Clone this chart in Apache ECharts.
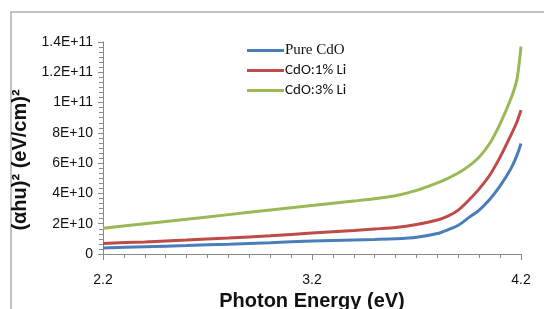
<!DOCTYPE html>
<html>
<head>
<meta charset="utf-8">
<script src="https://cdn.jsdelivr.net/npm/echarts@6/dist/echarts.min.js"></script>
<style>
  html, body { margin: 0; padding: 0; background: #fff; }
  #chart { width: 544px; height: 309px; }
</style>
</head>
<body>
<div id="chart"></div>
<script>
// photon energy (eV)
var energy = [2.2, 2.4, 2.6, 2.8, 3.0, 3.2, 3.4, 3.5, 3.6, 3.7, 3.8, 3.85, 3.9, 3.95, 4.0, 4.05, 4.1, 4.15, 4.18, 4.2];
var pureCdO = [4.0e9, 4.8e9, 5.6e9, 6.5e9, 7.5e9, 8.6e9, 9.3e9, 9.6e9, 1.0e10, 1.1e10, 1.35e10, 1.6e10, 1.9e10, 2.4e10, 2.9e10, 3.6e10, 4.5e10, 5.6e10, 6.5e10, 7.3e10];
var li1 = [7.0e9, 8.0e9, 9.2e9, 1.05e10, 1.2e10, 1.38e10, 1.55e10, 1.65e10, 1.75e10, 1.95e10, 2.25e10, 2.5e10, 2.9e10, 3.55e10, 4.3e10, 5.2e10, 6.4e10, 7.8e10, 8.7e10, 9.5e10];
var li3 = [1.7e10, 2.0e10, 2.3e10, 2.6e10, 2.9e10, 3.2e10, 3.5e10, 3.65e10, 3.85e10, 4.2e10, 4.7e10, 5.0e10, 5.35e10, 5.8e10, 6.4e10, 7.3e10, 8.6e10, 1.02e11, 1.15e11, 1.37e11];
var names = ['Pure CdO', 'CdO:1% Li', 'CdO:3% Li'];
var colors = ['#4a7ebb', '#be4b48', '#98b954'];

function pairs(ys) {
  var out = [];
  for (var i = 0; i < energy.length; i++) out.push([energy[i], ys[i]]);
  return out;
}

function excelSci(v) {
  if (v === 0) return '0';
  var e = Math.floor(Math.log10(v) + 1e-9);
  var m = Math.round(v / Math.pow(10, e) * 10) / 10;
  return m + 'E+' + e;
}

var chart = echarts.init(document.getElementById('chart'), null, { renderer: 'canvas' });

var legendFonts = ['Liberation Serif', 'Carlito, Liberation Sans', 'Carlito, Liberation Sans'];
var legends = [];
for (var k = 0; k < 3; k++) {
  legends.push({
    data: [names[k]],
    left: 242,
    top: 38 + k * 20,
    icon: 'rect',
    itemWidth: 37,
    itemHeight: 3,
    itemGap: 0,
    textStyle: { fontFamily: legendFonts[k], fontSize: 15, color: '#111', padding: [0, 0, 0, -4] }
  });
}

var option = {
  animation: false,
  backgroundColor: '#fff',
  color: colors,
  legend: legends,
  graphic: [{
    type: 'polyline',
    shape: { points: [[11, 309], [11, 12], [544, 12]] },
    style: { stroke: '#b0b0b0', lineWidth: 1.5, fill: null },
    silent: true
  }],
  grid: { left: 103, right: 23, top: 42, bottom: 55, outerBoundsMode: 'none' },
  xAxis: {
    type: 'value',
    min: 2.2,
    max: 4.2,
    interval: 1,
    name: 'Photon Energy (eV)',
    nameLocation: 'middle',
    nameGap: 37,
    nameTextStyle: { fontFamily: 'Liberation Sans', fontWeight: 'bold', fontSize: 20, color: '#111' },
    axisLine: { lineStyle: { color: '#888', width: 1 } },
    axisTick: { inside: false, length: 6, lineStyle: { color: '#888' } },
    minorTick: { show: true, splitNumber: 10, length: 4, lineStyle: { color: '#888' } },
    axisLabel: {
      margin: 19, fontFamily: 'Liberation Sans', fontSize: 14, color: '#111',
      formatter: function (v) { return v.toFixed(1); }
    },
    splitLine: { show: false }
  },
  yAxis: {
    type: 'value',
    min: 0,
    max: 1.4e11,
    interval: 2e10,
    name: '(αhu)² (eV/cm)²',
    nameLocation: 'middle',
    nameGap: 46,
    nameTextStyle: { fontFamily: 'Liberation Sans', fontWeight: 'bold', fontSize: 20, color: '#111', padding: [0, 24, 0, 0] },
    axisLine: { show: true, lineStyle: { color: '#888', width: 1 } },
    axisTick: { show: true, length: 5, lineStyle: { color: '#888' } },
    minorTick: { show: true, splitNumber: 6, length: 4, lineStyle: { color: '#888' } },
    axisLabel: { margin: 10, fontFamily: 'Liberation Sans', fontSize: 14, color: '#111', formatter: excelSci },
    splitLine: { show: false }
  },
  series: [
    { name: names[0], type: 'line', data: pairs(pureCdO), smooth: 0.25, showSymbol: false, lineStyle: { width: 3 } },
    { name: names[1], type: 'line', data: pairs(li1), smooth: 0.25, showSymbol: false, lineStyle: { width: 3 } },
    { name: names[2], type: 'line', data: pairs(li3), smooth: 0.25, showSymbol: false, lineStyle: { width: 3 } }
  ]
};

chart.setOption(option);
</script>
</body>
</html>
